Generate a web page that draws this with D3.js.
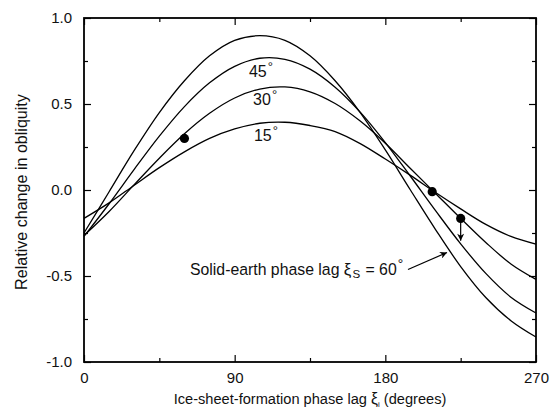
<!DOCTYPE html>
<html>
<head>
<meta charset="utf-8">
<script src="https://cdn.jsdelivr.net/npm/d3@7"></script>
<style>
  body { margin: 0; background: #fff; }
  text { font-family: Arial, "Liberation Sans", sans-serif; fill: #111; }
</style>
</head>
<body>
<div id="chart-area"></div>
<script>
const canvasWidth = 556;
const canvasHeight = 413;
const margin = {left: 84, top: 18, right: 20, bottom: 51};

// ice-sheet-formation phase lag (degrees)
const lagDegrees = [0, 15, 30, 45, 60, 75, 90, 105, 120, 135, 150, 165, 180, 195, 210, 225, 240, 255, 270];

// relative change in obliquity, one series per solid-earth phase lag
const lag15 = [-0.165, -0.075, 0.028, 0.13, 0.222, 0.30, 0.355, 0.388, 0.394, 0.375, 0.34, 0.27, 0.18, 0.085, -0.015, -0.11, -0.20, -0.27, -0.315];
const lag30 = [-0.265, -0.125, 0.031, 0.185, 0.327, 0.446, 0.535, 0.587, 0.599, 0.571, 0.503, 0.401, 0.272, 0.125, -0.02, -0.165, -0.305, -0.43, -0.52];
const lag45 = [-0.27, -0.08, 0.12, 0.313, 0.485, 0.623, 0.719, 0.766, 0.76, 0.703, 0.598, 0.453, 0.276, 0.08, -0.12, -0.313, -0.485, -0.623, -0.715];
const lag60 = [-0.25, -0.01, 0.23, 0.45, 0.635, 0.78, 0.87, 0.897, 0.87, 0.78, 0.635, 0.45, 0.233, 0.0, -0.23, -0.445, -0.625, -0.76, -0.855];

const curveLabels = ["45", "30", "15"];
const curveLabelSeries = [lag45, lag30, lag15];
const curveLabelDeg = [98.5, 101, 101.5];

// observed points
const dotDeg = [60, 208, 225];
const dotVal = [0.30, -0.01, -0.165];

const xMajor = [0, 90, 180, 270];
const xMinor = [45, 135, 225];
const yMajor = [-1, -0.5, 0, 0.5, 1];
const yMinor = [-0.75, -0.25, 0.25, 0.75];

const chartWidth = canvasWidth - margin.left - margin.right;
const chartHeight = canvasHeight - margin.top - margin.bottom;

const svg = d3.select("#chart-area").append("svg").attr("width", canvasWidth).attr("height", canvasHeight);

svg.append("defs").append("marker")
  .attr("id", "head")
  .attr("viewBox", "0 0 10 10")
  .attr("refX", 10).attr("refY", 5)
  .attr("markerWidth", 9).attr("markerHeight", 7)
  .attr("markerUnits", "userSpaceOnUse")
  .attr("orient", "auto")
  .append("path").attr("d", "M0,0 L10,5 L0,10 L3,5 Z").attr("fill", "#000");

const g = svg.append("g").attr("transform", `translate(${margin.left}, ${margin.top})`);

const scaleX = d3.scaleLinear().domain([0, 270]).range([0, chartWidth]);
const scaleY = d3.scaleLinear().domain([-1, 1]).range([chartHeight, 0]);

const fmt = d => d.toFixed(1);

function tidy(sel) {
  sel.select(".domain").remove();
  sel.selectAll("line").attr("stroke", "#000").attr("stroke-width", 1.2);
  sel.selectAll("text").attr("font-size", "15px").attr("fill", "#111");
}

// scale a text (and its tspans) so that it spans the wanted width
function fitWidth(textSel, width) {
  const k = width / textSel.node().getComputedTextLength();
  const all = [textSel.node(), ...textSel.selectAll("tspan").nodes()];
  all.forEach(n => {
    ["font-size", "dx", "dy"].forEach(a => {
      const v = n.getAttribute(a);
      if (v !== null) n.setAttribute(a, parseFloat(v) * k);
    });
  });
}

// bottom / top
g.append("g").attr("transform", `translate(0, ${chartHeight})`)
  .call(d3.axisBottom(scaleX).tickValues(xMajor).tickSize(-7).tickPadding(10).tickFormat(d3.format("d"))).call(tidy);
g.append("g").attr("transform", `translate(0, ${chartHeight})`)
  .call(d3.axisBottom(scaleX).tickValues(xMinor).tickSize(-4).tickFormat("")).call(tidy);
g.append("g")
  .call(d3.axisTop(scaleX).tickValues(xMajor).tickSize(-7).tickFormat("")).call(tidy);
g.append("g")
  .call(d3.axisTop(scaleX).tickValues(xMinor).tickSize(-4).tickFormat("")).call(tidy);

// left / right
g.append("g")
  .call(d3.axisLeft(scaleY).tickValues(yMajor).tickSize(-7).tickPadding(12).tickFormat(fmt)).call(tidy);
g.append("g")
  .call(d3.axisLeft(scaleY).tickValues(yMinor).tickSize(-4).tickFormat("")).call(tidy);
g.append("g").attr("transform", `translate(${chartWidth}, 0)`)
  .call(d3.axisRight(scaleY).tickValues(yMajor).tickSize(-7).tickFormat("")).call(tidy);
g.append("g").attr("transform", `translate(${chartWidth}, 0)`)
  .call(d3.axisRight(scaleY).tickValues(yMinor).tickSize(-4).tickFormat("")).call(tidy);

g.append("rect")
  .attr("width", chartWidth).attr("height", chartHeight)
  .attr("fill", "none").attr("stroke", "#000").attr("stroke-width", 1.8);

// curves
const line = d3.line()
  .x((d, i) => scaleX(lagDegrees[i]))
  .y(d => scaleY(d))
  .curve(d3.curveCatmullRom.alpha(0.5));

[lag15, lag30, lag45, lag60].forEach(series => {
  g.append("path").datum(series)
    .attr("d", line)
    .attr("fill", "none").attr("stroke", "#000").attr("stroke-width", 1.3);
});

// curve labels
curveLabels.forEach((label, i) => {
  const peak = d3.max(curveLabelSeries[i]);
  const t = g.append("text")
    .attr("x", scaleX(curveLabelDeg[i]))
    .attr("y", scaleY(peak) + 18.5)
    .attr("font-size", "16px");
  t.append("tspan").text(label);
  t.append("tspan").attr("font-size", "13px").attr("dx", 1).attr("dy", -6).text("°");
});

// points
g.selectAll("circle.obs").data(dotDeg).enter().append("circle")
  .attr("class", "obs")
  .attr("cx", d => scaleX(d))
  .attr("cy", (d, i) => scaleY(dotVal[i]))
  .attr("r", 4.6)
  .attr("fill", "#000");

// downward arrow from the last point
g.append("line")
  .attr("x1", scaleX(dotDeg[2])).attr("y1", scaleY(dotVal[2]))
  .attr("x2", scaleX(dotDeg[2])).attr("y2", scaleY(-0.295))
  .attr("stroke", "#000").attr("stroke-width", 1.2)
  .attr("marker-end", "url(#head)");

// annotation
const note = g.append("text")
  .attr("x", 190 - margin.left)
  .attr("y", 275 - margin.top)
  .attr("font-size", 15);
note.append("tspan").text("Solid-earth phase lag ");
note.append("tspan").attr("font-size", 16).text("ξ");
note.append("tspan").attr("font-size", 11).attr("dx", 1).attr("dy", 3).text("S");
note.append("tspan").attr("dx", 5).attr("dy", -3).text("= 60");
note.append("tspan").attr("font-size", 13).attr("dx", 1).attr("dy", -6).text("°");
fitWidth(note, 206);

g.append("line")
  .attr("x1", 408 - margin.left).attr("y1", 269.5 - margin.top)
  .attr("x2", 447 - margin.left).attr("y2", 252.5 - margin.top)
  .attr("stroke", "#000").attr("stroke-width", 1.2)
  .attr("marker-end", "url(#head)");

// axis titles
const xTitle = svg.append("text")
  .attr("x", margin.left + chartWidth / 2).attr("y", 404)
  .attr("text-anchor", "middle")
  .attr("font-size", 15);
xTitle.append("tspan").text("Ice-sheet-formation phase lag ");
xTitle.append("tspan").attr("font-size", 16).text("ξ");
xTitle.append("tspan").attr("font-size", 8).attr("dy", 3).text("i");
xTitle.append("tspan").attr("dy", -3).text(" (degrees)");
fitWidth(xTitle, 273);

const yTitle = svg.append("text")
  .attr("transform", `translate(27, ${margin.top + chartHeight / 2 + 2}) rotate(-90)`)
  .attr("text-anchor", "middle")
  .attr("font-size", 15)
  .text("Relative change in obliquity");
fitWidth(yTitle, 196);
</script>
</body>
</html>
